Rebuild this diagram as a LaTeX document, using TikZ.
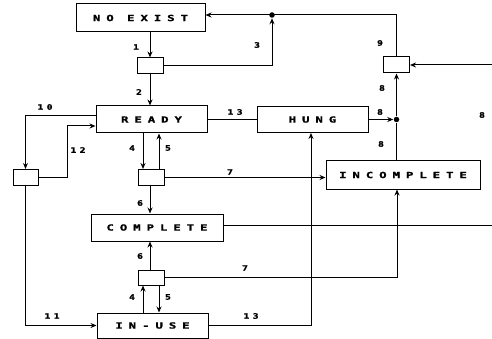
\documentclass[tikz,border=0pt]{standalone}
\usepackage{fontspec}
\usetikzlibrary{arrows.meta,calc}
\newfontfamily\boxfont[FakeStretch=1.45,LetterSpace=70,FakeBold=1.5]{DejaVu Sans Mono}
\newfontfamily\numfont[FakeStretch=1.3,LetterSpace=45,FakeBold=1.5]{DejaVu Sans Mono}
\begin{document}
\begin{tikzpicture}[x=1pt,y=-1pt,
  line width=1pt,
  state/.style={draw,rectangle,inner sep=0pt,font=\boxfont\bfseries\fontsize{8.5}{9}\selectfont},
  small/.style={draw,rectangle,inner sep=0pt,minimum width=26pt,minimum height=16pt},
  lab/.style={font=\numfont\bfseries\fontsize{7.5}{8}\selectfont,inner sep=0pt},
  arr/.style={-{Stealth[length=6pt,width=5pt]}},
  jdot/.style={circle,fill,inner sep=0pt,minimum size=5.5pt}]
\useasboundingbox (0,0) rectangle (492,339);
% states
\node[state,minimum width=129pt,minimum height=28pt] (noexist) at (140.5,18) {NO EXIST};
\node[state,minimum width=111pt,minimum height=27pt] (ready) at (151.5,119.5) {READY};
\node[state,minimum width=111pt,minimum height=26pt] (hung) at (312.5,119.5) {HUNG};
\node[state,minimum width=154pt,minimum height=28pt] (incomplete) at (403,175) {INCOMPLETE};
\node[state,minimum width=132pt,minimum height=27pt] (complete) at (157,227.5) {COMPLETE};
\node[state,minimum width=111pt,minimum height=25pt] (inuse) at (152.5,325.5) {IN-USE};
% small boxes
\node[small] (s1) at (150,66) {};
\node[small] (s2) at (151,177.5) {};
\node[small,minimum width=25pt] (s3) at (25.5,177.5) {};
\node[small] (s4) at (396.5,65) {};
\node[small,minimum height=15pt] (s5) at (151,277.5) {};
% junctions and free ends
\node[jdot] (d1) at (272,15) {};
\node[jdot] (d2) at (396.5,119.5) {};
\coordinate (inR) at (492,65);
\coordinate (outR) at (492,225);
% connectors
\draw[arr] (noexist.south -| s1.north) -- (s1.north);
\draw[arr] (s1.south) -- (s1.south |- ready.north);
\draw[arr] (s1.east) -| (d1.south);
\draw[arr] (s4.north) |- (noexist.east |- d1);
\draw[arr] (inR) -- (s4.east);
\draw (ready.east) -- (hung.west);
\draw[arr] (hung.east) -- (d2.west);
\draw[arr] (d2) -- (s4.south);
\draw (incomplete.north -| d2) -- (d2);
\draw[arr] (ready.west |- 0,116) -| (s3.north);
\draw[arr] (s3.east) -- (67,177.5) |- (ready.west |- 0,126);
\draw[arr] (s3.south) |- (inuse.west);
\draw[arr] (ready.south -| 143,0) -- (s2.north -| 143,0);
\draw[arr] (s2.north -| 159,0) -- (ready.south -| 159,0);
\draw[arr] (s2.east) -- (s2.east -| incomplete.west);
\draw[arr] (s2.south -| 150,0) -- (complete.north -| 150,0);
\draw (complete.east |- outR) -- (outR);
\draw[arr] (s5.north -| 150,0) -- (complete.south -| 150,0);
\draw[arr] (inuse.north -| 143,0) -- (s5.south -| 143,0);
\draw[arr] (s5.south -| 159,0) -- (inuse.north -| 159,0);
\draw[arr] (s5.east) -| (incomplete.south -| 397,0);
\draw[arr] (inuse.east) -| (hung.south -| 311,0);
% labels
\node[lab] (l1) at (136,47) {1};
\node[lab] (l2) at (139,92) {2};
\node[lab] (l3) at (257,45) {3};
\node[lab] (l9) at (380,43) {9};
\node[lab] (l8a) at (382,88) {8};
\node[lab] (l13a) at (235,112) {13};
\node[lab] (l8b) at (380,112) {8};
\node[lab] (l8c) at (482,115) {8};
\node[lab] (l10) at (45,107) {10};
\node[lab] (l12) at (78,150) {12};
\node[lab] (l4a) at (132,148) {4};
\node[lab] (l5a) at (168,148) {5};
\node[lab] (l7a) at (230,172) {7};
\node[lab] (l6a) at (140,203) {6};
\node[lab] (l8d) at (381,144) {8};
\node[lab] (l6b) at (140,256) {6};
\node[lab] (l7b) at (245,268) {7};
\node[lab] (l4b) at (132,297) {4};
\node[lab] (l5b) at (168,297) {5};
\node[lab] (l11) at (52,316) {11};
\node[lab] (l13b) at (251,316) {13};
\end{tikzpicture}
\end{document}
